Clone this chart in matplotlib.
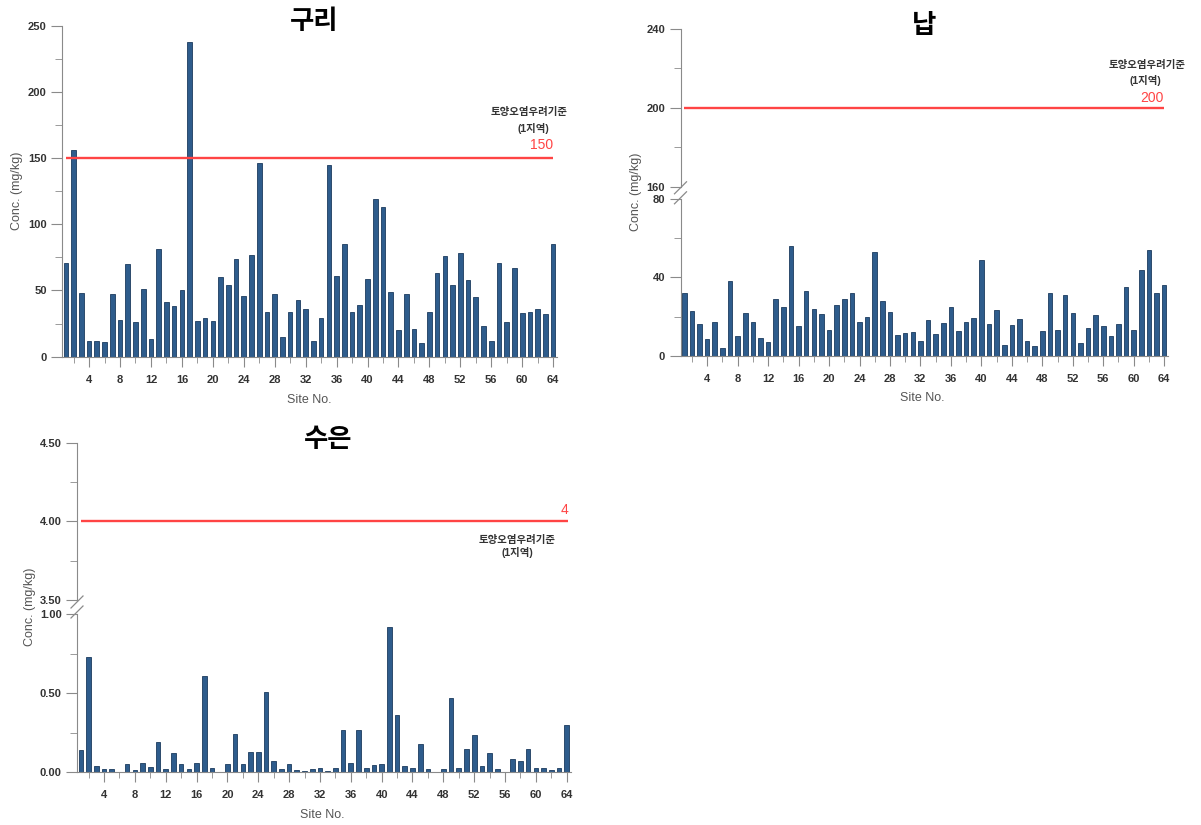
import numpy as np
import matplotlib
matplotlib.use("Agg")
import matplotlib.pyplot as plt
from matplotlib.ticker import MultipleLocator, FormatStrFormatter

plt.rcParams['font.family'] = ['Liberation Sans', 'Noto Sans CJK KR']

# --- DATA ---
sites = np.arange(1, 65)

copper = [71, 156, 48, 12, 12, 11, 47, 28, 70, 26, 51, 13, 81, 41, 38, 50,
          238, 27, 29, 27, 60, 54, 74, 46, 77, 146, 34, 47, 15, 34, 43, 36,
          12, 29, 145, 61, 85, 34, 39, 59, 119, 113, 49, 20, 47, 21, 10, 34,
          63, 76, 54, 78, 58, 45, 23, 12, 71, 26, 67, 33, 34, 36, 32, 85]

lead = [32, 23, 16, 8.5, 17, 4, 38, 10, 22, 17, 9, 7, 29, 25, 56, 15,
        33, 24, 21.5, 13, 26, 29, 32, 17, 20, 53, 28, 22.5, 10.5, 11.5, 12, 7.5,
        18, 11, 16.5, 25, 12.5, 17, 19.5, 49, 16, 23.5, 5.5, 15.5, 18.5, 7.5,
        5, 12.5, 32, 13, 31, 22, 6.5, 14, 21, 15, 10, 16, 35, 13, 44, 54, 32, 36]

mercury = [0.14, 0.73, 0.04, 0.02, 0.02, 0.005, 0.05, 0.015, 0.06, 0.035, 0.19, 0.02,
           0.12, 0.05, 0.02, 0.06, 0.61, 0.03, 0.0, 0.05, 0.24, 0.05, 0.13, 0.13,
           0.51, 0.07, 0.02, 0.05, 0.013, 0.011, 0.02, 0.03, 0.011, 0.025, 0.27, 0.06,
           0.27, 0.03, 0.045, 0.05, 0.92, 0.36, 0.04, 0.025, 0.18, 0.02, 0.0, 0.02,
           0.47, 0.025, 0.15, 0.235, 0.04, 0.12, 0.02, 0.0, 0.085, 0.07, 0.145, 0.025,
           0.03, 0.015, 0.025, 0.30]

limits = {"구리": 150, "납": 200, "수은": 4}
limit_text = "토양오염우려기준"
limit_sub = "(1지역)"

# --- STYLE ---
bar_color = '#2e5c8c'
edge_color = '#1c3b5e'
red = '#ff4444'
spine_col = '#8a8a8a'
lab_col = '#555555'
tick_col = '#333333'

W, H = 1201, 825
fig = plt.figure(figsize=(W / 100, H / 100), dpi=100)


def px_axes(x0, x1, ytop, ybot):
    # pixel box -> figure fraction axes
    return fig.add_axes([x0 / W, 1 - ybot / H, (x1 - x0) / W, (ybot - ytop) / H])


def style(ax, major, minor, fmt, xaxis=True):
    ax.set_xlim(0.5, 64.5)
    for s in ['top', 'right']:
        ax.spines[s].set_visible(False)
    ax.spines['left'].set_color(spine_col)
    ax.spines['bottom'].set_color(spine_col)
    ax.yaxis.set_major_locator(MultipleLocator(major))
    ax.yaxis.set_minor_locator(MultipleLocator(minor))
    ax.yaxis.set_major_formatter(FormatStrFormatter(fmt))
    ax.tick_params(axis='y', which='major', length=8, color=spine_col,
                   labelsize=8, labelcolor=tick_col, pad=3)
    ax.tick_params(axis='y', which='minor', length=5, color=spine_col)
    for t in ax.get_yticklabels():
        t.set_fontweight('bold')
    if xaxis:
        ax.xaxis.set_major_locator(MultipleLocator(4))
        ax.xaxis.set_minor_locator(MultipleLocator(2))
        ax.tick_params(axis='x', which='major', length=7, color=spine_col,
                       labelsize=8, labelcolor=tick_col, pad=6)
        ax.tick_params(axis='x', which='minor', length=4, color=spine_col)
        for t in ax.get_xticklabels():
            t.set_fontweight('bold')
    else:
        ax.spines['bottom'].set_visible(False)
        ax.set_xticks([])


def bars(ax, vals):
    ax.bar(sites, vals, width=0.6, color=bar_color, edgecolor=edge_color, linewidth=0.6)


def break_marks(x_px, y_px):
    for dy in (-5, 5):
        fig.add_artist(plt.Line2D([(x_px - 6) / W, (x_px + 6) / W],
                                  [1 - (y_px + dy + 6) / H, 1 - (y_px + dy - 6) / H],
                                  color=spine_col, lw=0.9))


# --- 구리 (copper) ---
ax1 = px_axes(62, 557, 25.7, 356.7)
bars(ax1, copper)
ax1.set_ylim(0, 250)
style(ax1, 50, 25, '%d')
ax1.hlines(limits["구리"], 1, 64, color=red, lw=1.7)
fig.text(314 / W, 1 - 22 / H, "구리", ha='center', va='center', fontsize=19, fontweight='bold')
fig.text(529 / W, 1 - 112 / H, limit_text, ha='center', va='center', fontsize=7.5, fontweight='bold', color=tick_col)
fig.text(533 / W, 1 - 128 / H, limit_sub, ha='center', va='center', fontsize=7.5, fontweight='bold', color=tick_col)
fig.text(553 / W, 1 - 145 / H, "150", ha='right', va='center', fontsize=10, color=red)
fig.text(17 / W, 1 - 191 / H, "Conc. (mg/kg)", rotation=90, ha='center', va='center', fontsize=9, color=lab_col)
fig.text(309 / W, 1 - 400 / H, "Site No.", ha='center', va='center', fontsize=9, color=lab_col)

# --- 납 (lead) ---
ax2u = px_axes(680.5, 1168, 29, 186.7)
ax2l = px_axes(680.5, 1168, 199, 355.7)
bars(ax2l, lead)
ax2u.set_ylim(160, 240)
ax2l.set_ylim(0, 80)
style(ax2u, 40, 20, '%d', xaxis=False)
style(ax2l, 40, 20, '%d')
ax2u.hlines(limits["납"], 1, 64, color=red, lw=1.7)
break_marks(680.5, 192.8)
fig.text(924 / W, 1 - 26 / H, "납", ha='center', va='center', fontsize=19, fontweight='bold')
fig.text(1147 / W, 1 - 65 / H, limit_text, ha='center', va='center', fontsize=7.5, fontweight='bold', color=tick_col)
fig.text(1145 / W, 1 - 81 / H, limit_sub, ha='center', va='center', fontsize=7.5, fontweight='bold', color=tick_col)
fig.text(1164 / W, 1 - 98 / H, "200", ha='right', va='center', fontsize=10, color=red)
fig.text(636 / W, 1 - 192 / H, "Conc. (mg/kg)", rotation=90, ha='center', va='center', fontsize=9, color=lab_col)
fig.text(922 / W, 1 - 398 / H, "Site No.", ha='center', va='center', fontsize=9, color=lab_col)

# --- 수은 (mercury) ---
ax3u = px_axes(77, 570.6, 442.7, 600)
ax3l = px_axes(77, 570.6, 614.3, 772.3)
bars(ax3l, mercury)
ax3u.set_ylim(3.5, 4.5)
ax3l.set_ylim(0, 1.0)
style(ax3u, 0.5, 0.25, '%.2f', xaxis=False)
style(ax3l, 0.5, 0.25, '%.2f')
ax3u.hlines(limits["수은"], 1, 64.2, color=red, lw=1.7)
break_marks(77, 607)
fig.text(328 / W, 1 - 440 / H, "수은", ha='center', va='center', fontsize=19, fontweight='bold')
fig.text(517 / W, 1 - 540 / H, limit_text, ha='center', va='center', fontsize=7.5, fontweight='bold', color=tick_col)
fig.text(517 / W, 1 - 553 / H, limit_sub, ha='center', va='center', fontsize=7.5, fontweight='bold', color=tick_col)
fig.text(568 / W, 1 - 510 / H, "4", ha='right', va='center', fontsize=10, color=red)
fig.text(30 / W, 1 - 607 / H, "Conc. (mg/kg)", rotation=90, ha='center', va='center', fontsize=9, color=lab_col)
fig.text(322 / W, 1 - 815 / H, "Site No.", ha='center', va='center', fontsize=9, color=lab_col)

fig.savefig("out.png", dpi=100)
